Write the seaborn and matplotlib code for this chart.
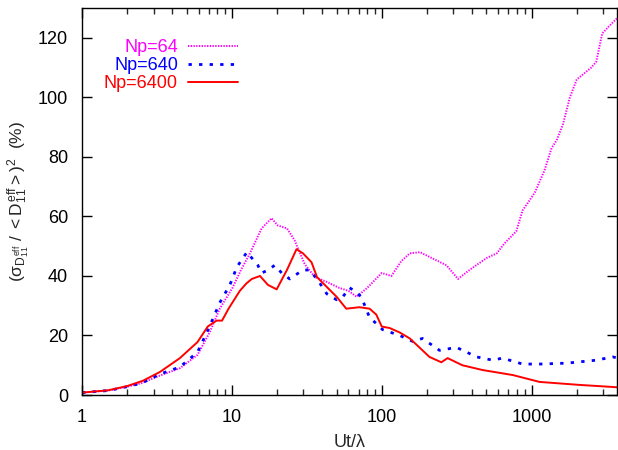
import numpy as np
import pandas as pd
import matplotlib
matplotlib.use("Agg")
import matplotlib.pyplot as plt
import seaborn as sns
from matplotlib.ticker import LogLocator, NullFormatter, FixedLocator

# ---- data ----
labels = ["Np=64", "Np=640", "Np=6400"]
colors = ["#ff00ff", "#0000ff", "#ff0000"]

x64 = [1, 1.5, 2, 2.5, 3.3, 4.5, 5.9, 7.1, 8.3, 10.1, 11.5, 13.2, 15.8, 18.4, 20.2, 23.3,
       26.2, 30.6, 35.8, 43, 52, 60, 68, 80, 100, 116, 135, 154, 180, 216, 270, 323, 385,
       500, 585, 660, 790, 870, 1050, 1220, 1360, 1470, 1620, 1800, 2000, 2500, 2700,
       2960, 3300, 3700]
y64 = [0.8, 1.5, 2.8, 4, 6.5, 9, 13.5, 21, 29, 36, 42, 47.6, 56, 59.4, 57, 56,
       52, 44, 39.6, 38, 36, 35, 33, 36, 41, 40, 45, 47.6, 48, 46, 43.6, 39, 42,
       46, 47.6, 51, 55, 62, 68, 75.5, 83, 85.6, 91, 100, 106, 110, 112,
       121.5, 124, 126.5]

x640 = [1, 1.5, 2, 2.5, 3.3, 4.5, 5.9, 7.1, 8.3, 9.7, 10.8, 12.6, 14.9, 15.8, 17.5, 19.3,
        21.5, 24.3, 29.8, 33, 37, 43, 50, 55, 61, 66, 73, 83, 97, 101, 132, 161, 187, 243,
        315, 430, 550, 640, 870, 1130, 1710, 2700, 3470, 3700]
y640 = [0.8, 1.5, 2.8, 4, 7, 9.4, 14.4, 23, 31, 37, 43, 48, 43.6, 41, 42, 43.6,
        41, 39, 42, 42, 39, 34, 32, 33, 36, 35, 33, 26, 23, 22, 20, 18, 19, 15,
        16, 12.8, 11.7, 12.4, 10.4, 10.4, 10.7, 11.7, 12.8, 12.5]

x6400 = [1, 1.5, 2, 2.55, 3.3, 4.5, 5.9, 6.9, 7.9, 8.6, 9.5, 11.3, 12.5, 13.6, 15.4, 17.4,
         19.9, 23.3, 27, 29.8, 34, 37, 43.6, 50, 58, 71, 83, 92, 100, 113, 132, 154, 180,
         208, 250, 275, 345, 470, 750, 1130, 2080, 3470, 3700]
y6400 = [0.8, 1.6, 3, 4.8, 7.7, 12.4, 17.8, 23, 25, 25, 29, 35, 37.5, 39, 40, 37,
         35.5, 42, 49, 47.6, 44.6, 39.6, 36, 33, 29, 29.5, 29, 27, 23, 22.5, 21, 19, 15.8,
         12.8, 11, 12.4, 10, 8.4, 6.7, 4.4, 3.4, 2.7, 2.6]

yticks = [0, 20, 40, 60, 80, 100, 120]
xticks = [1, 10, 100, 1000]

# ---- style ----
sns.set_style("ticks")
plt.rcParams["font.family"] = ["Liberation Sans", "DejaVu Sans"]
plt.rcParams["mathtext.fontset"] = "custom"
plt.rcParams["mathtext.rm"] = "Liberation Sans"
plt.rcParams["mathtext.it"] = "Liberation Sans"
plt.rcParams["mathtext.bf"] = "Liberation Sans:bold"

fig = plt.figure(figsize=(6.18, 4.5), dpi=100)
ax = fig.add_axes([0.1327, 0.1222, 0.8653, 0.8598])

series = [(x64, y64), (x640, y640), (x6400, y6400)]
dash_styles = [(0.7, 0.7), (1.2, 2.6), ""]
lws = [1.4, 2.0, 1.4]
for (xs, ys), lab, col, ds, lw in zip(series, labels, colors, dash_styles, lws):
    df = pd.DataFrame({"x": xs, "y": ys})
    sns.lineplot(data=df, x="x", y="y", ax=ax, color=col, label=lab, lw=lw,
                 estimator=None, sort=False)
    line = ax.lines[-1]
    if ds:
        line.set_dashes(ds)

ax.set_xscale("log")
ax.set_xlim(1, 3700)
ax.set_ylim(0, 130)
ax.set_yticks(yticks)
ax.xaxis.set_major_locator(FixedLocator(xticks))
ax.set_xticklabels([str(t) for t in xticks])
ax.xaxis.set_minor_locator(LogLocator(base=10, subs=np.arange(2, 10), numticks=20))
ax.xaxis.set_minor_formatter(NullFormatter())
ax.tick_params(axis="both", which="major", direction="in", length=7, width=1,
               top=True, right=True, labelsize=13, colors="black")
ax.tick_params(axis="y", which="major", pad=10)
ax.tick_params(axis="x", which="major", pad=10)
ax.tick_params(axis="both", which="minor", direction="in", length=4, width=1,
               top=True, right=True)
for s in ax.spines.values():
    s.set_linewidth(1.0)
    s.set_color("black")

ax.set_xlabel(r"Ut/λ", fontsize=13, labelpad=6)
ax.set_ylabel(r"$(\sigma_{D_{11}^{eff}}\ /\ <D_{11}^{eff}>)^2$  (%)", fontsize=12.5, labelpad=5)

leg = ax.legend(loc="upper left", bbox_to_anchor=(0.041, 0.92), frameon=False,
                markerfirst=False, labelcolor="linecolor", fontsize=13,
                handlelength=2.8, handletextpad=0.55, labelspacing=0.05,
                borderpad=0, borderaxespad=0)
for t in leg.get_texts():
    t.set_ha("right")
leg._legend_box.align = "right"

fig.savefig("out.png", dpi=100)
